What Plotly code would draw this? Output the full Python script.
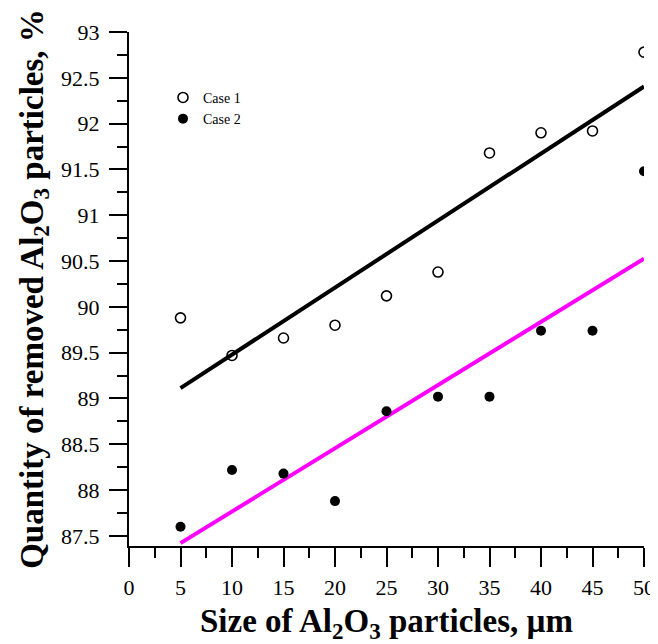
import numpy as np
import plotly.graph_objects as go

size_um = [5, 10, 15, 20, 25, 30, 35, 40, 45, 50]
case1 = [89.88, 89.47, 89.66, 89.80, 90.12, 90.38, 91.68, 91.90, 91.92, 92.78]
case2 = [87.60, 88.22, 88.18, 87.88, 88.86, 89.02, 89.02, 89.74, 89.74, 91.48]

x = np.array(size_um, dtype=float)
fit_x = [x.min(), x.max()]
k1, b1 = np.polyfit(x, case1, 1)
k2, b2 = np.polyfit(x, case2, 1)

fig = go.Figure()
fig.add_trace(go.Scatter(x=fit_x, y=[k1 * v + b1 for v in fit_x], mode="lines",
                         line=dict(color="black", width=4), showlegend=False, hoverinfo="skip"))
fig.add_trace(go.Scatter(x=fit_x, y=[k2 * v + b2 for v in fit_x], mode="lines",
                         line=dict(color="#FF00FF", width=4), showlegend=False, hoverinfo="skip"))
fig.add_trace(go.Scatter(x=size_um, y=case1, mode="markers", name="Case 1",
                         marker=dict(symbol="circle-open", size=10, color="black",
                                     line=dict(width=1.6, color="black"))))
fig.add_trace(go.Scatter(x=size_um, y=case2, mode="markers", name="Case 2",
                         marker=dict(symbol="circle", size=10, color="black")))

tickfont = dict(family="Liberation Serif", size=22, color="black")
titlefont = dict(family="Liberation Serif", size=33, color="black")

fig.update_layout(
    width=650, height=636,
    margin=dict(l=121, r=14, t=24, b=98),
    paper_bgcolor="white", plot_bgcolor="white",
    showlegend=True,
    legend=dict(x=0.066, y=0.903, xanchor="left", yanchor="top",
                font=dict(family="Liberation Serif", size=14, color="black"),
                bgcolor="rgba(0,0,0,0)", tracegroupgap=0),
    xaxis=dict(
        range=[0, 50], tick0=0, dtick=5, showgrid=False, zeroline=False, automargin=False,
        showline=True, linecolor="black", linewidth=2,
        ticks="outside", ticklen=19, tickwidth=2, tickcolor="black", ticklabelstandoff=2,
        minor=dict(dtick=2.5, ticklen=10, tickwidth=2, tickcolor="black", ticks="outside", showgrid=False),
        tickfont=tickfont,
        title=dict(text="<b>Size of Al<sub>2</sub>O<sub>3</sub> particles, µm</b>", font=titlefont, standoff=14),
    ),
    yaxis=dict(
        range=[87.39, 93], tick0=87.5, dtick=0.5, showgrid=False, zeroline=False, automargin=False,
        showline=True, linecolor="black", linewidth=2,
        ticks="outside", ticklen=18, tickwidth=2, tickcolor="black", ticklabelstandoff=5,
        minor=dict(dtick=0.25, ticklen=10, tickwidth=2, tickcolor="black", ticks="outside", showgrid=False),
        tickfont=tickfont,
        title=dict(text="<b>Quantity of removed Al<sub>2</sub>O<sub>3</sub> particles, %</b>", font=titlefont, standoff=8),
    ),
)

fig.write_html("out.html")
